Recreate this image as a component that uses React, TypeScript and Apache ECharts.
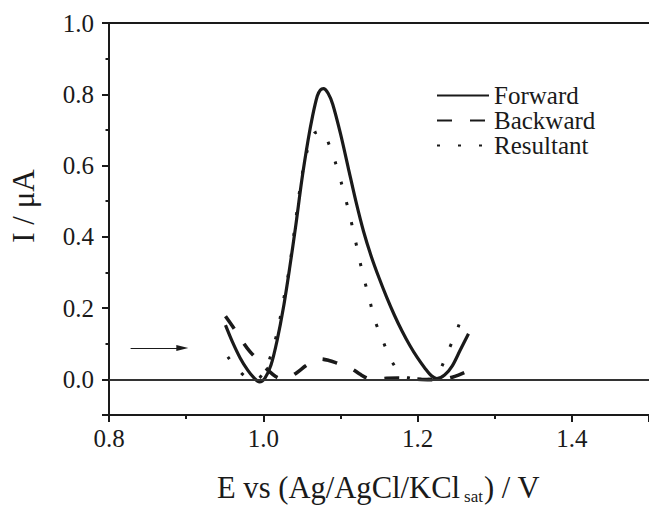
import React, { useEffect, useRef } from 'react';
import * as echarts from 'echarts';

// ---- data ----
const forwardE = [0.951, 0.96, 0.97, 0.98, 0.988, 0.995, 1.002, 1.01, 1.018, 1.026, 1.034, 1.042, 1.05, 1.058, 1.064, 1.07, 1.074, 1.078, 1.084, 1.09, 1.1, 1.11, 1.12, 1.13, 1.14, 1.15, 1.16, 1.17, 1.18, 1.19, 1.2, 1.21, 1.218, 1.225, 1.235, 1.245, 1.255, 1.266];
const forwardI = [0.152, 0.105, 0.06, 0.025, 0.004, -0.007, 0.003, 0.04, 0.11, 0.2, 0.31, 0.43, 0.56, 0.67, 0.74, 0.795, 0.812, 0.816, 0.803, 0.772, 0.69, 0.595, 0.5, 0.415, 0.345, 0.285, 0.23, 0.18, 0.135, 0.095, 0.06, 0.03, 0.01, 0.002, 0.012, 0.038, 0.081, 0.128];

const backwardE = [0.951, 0.963, 0.975, 0.983, 0.992, 1.0, 1.008, 1.016, 1.024, 1.032, 1.043, 1.055, 1.065, 1.075, 1.085, 1.095, 1.105, 1.116, 1.125, 1.135, 1.145, 1.16, 1.175, 1.19, 1.205, 1.22, 1.235, 1.245, 1.253, 1.262];
const backwardI = [0.177, 0.14, 0.1, 0.077, 0.057, 0.039, 0.022, 0.008, 0.001, 0.004, 0.018, 0.038, 0.052, 0.057, 0.053, 0.046, 0.038, 0.028, 0.015, 0.003, 0.0, 0.003, 0.004, 0.002, 0.0, -0.001, 0.001, 0.006, 0.012, 0.02];

const resultantE = [0.954, 0.966, 0.978, 0.99, 1.002, 1.012, 1.019, 1.026, 1.034, 1.042, 1.05, 1.058, 1.066, 1.076, 1.086, 1.094, 1.102, 1.111, 1.118, 1.124, 1.13, 1.137, 1.144, 1.154, 1.166, 1.18, 1.19, 1.205, 1.22, 1.23, 1.238, 1.25, 1.259];
const resultantI = [0.063, 0.03, 0.006, -0.002, 0.025, 0.083, 0.142, 0.22, 0.315, 0.446, 0.57, 0.65, 0.69, 0.697, 0.655, 0.605, 0.545, 0.47, 0.404, 0.343, 0.287, 0.231, 0.17, 0.114, 0.053, 0.011, 0.004, 0.0, 0.002, 0.03, 0.072, 0.131, 0.189];

const seriesNames = ['Forward', 'Backward', 'Resultant'];
const arrowE = [0.828, 0.895];
const arrowI = 0.088;
const zeroLevel = 0;
const xRange = [0.8, 1.5];
const yRange = [-0.1, 1.0];

const FONT = "'Liberation Serif', 'Times New Roman', Times, serif";
const INK = '#1a1a1a';

const zip = (e: number[], i: number[]) => e.map((v, k) => [v, i[k]]);

export default function App() {
  const ref = useRef<HTMLDivElement>(null);

  useEffect(() => {
    if (!ref.current) return;
    const chart = echarts.init(ref.current, null, { renderer: 'svg' });

    // measure x-axis title pieces
    const ctx = document.createElement('canvas').getContext('2d')!;
    const part1 = 'E vs (Ag/AgCl/KCl';
    const part2 = 'sat';
    const part3 = ') / V';
    ctx.font = `30.6px ${FONT}`;
    const w1 = ctx.measureText(part1).width;
    ctx.font = `17px ${FONT}`;
    const w2 = ctx.measureText(part2).width;
    const titleLeft = 217;
    const titleY = 488;

    chart.setOption({
      animation: false,
      backgroundColor: '#ffffff',
      grid: { left: 109, right: 0, top: 23, bottom: 91, containLabel: false },
      legend: {
        orient: 'vertical',
        left: 436,
        top: 83,
        padding: 0,
        itemWidth: 52,
        itemHeight: 27.5,
        itemGap: 0,
        data: seriesNames,
        itemStyle: { opacity: 0, color: 'transparent', borderWidth: 0 },
        textStyle: { fontFamily: FONT, fontSize: 25, color: INK },
        inactiveColor: INK,
      },
      xAxis: [
        {
          type: 'value',
          min: xRange[0],
          max: xRange[1],
          interval: 0.2,
          position: 'bottom',
          axisLine: { show: true, onZero: false, lineStyle: { color: INK, width: 2 } },
          axisTick: { show: true, inside: false, length: 7, lineStyle: { color: INK, width: 2 } },
          minorTick: { show: true, splitNumber: 2, length: 4, lineStyle: { color: INK, width: 2 } },
          splitLine: { show: false },
          axisLabel: {
            margin: 11,
            fontFamily: FONT,
            fontSize: 25,
            color: INK,
            showMaxLabel: false,
            formatter: (v: number) => (v > 1.45 ? '' : v.toFixed(1)),
          },
        },
        {
          type: 'value',
          min: xRange[0],
          max: xRange[1],
          position: 'top',
          axisLine: { show: true, onZero: false, lineStyle: { color: INK, width: 2 } },
          axisTick: { show: false },
          axisLabel: { show: false },
          splitLine: { show: false },
        },
      ],
      yAxis: {
        type: 'value',
        min: yRange[0],
        max: yRange[1],
        splitNumber: 5,
        axisLine: { show: true, onZero: false, lineStyle: { color: INK, width: 2 } },
        axisTick: { show: true, inside: false, length: 7, lineStyle: { color: INK, width: 2 } },
        minorTick: { show: true, splitNumber: 2, length: 3.5, lineStyle: { color: INK, width: 2 } },
        splitLine: { show: false },
        axisLabel: {
          margin: 15,
          fontFamily: FONT,
          fontSize: 25,
          color: INK,
          showMinLabel: false,
          formatter: (v: number) => (v < -0.05 ? '' : v.toFixed(1)),
        },
      },
      series: [
        {
          name: seriesNames[0],
          type: 'line',
          data: zip(forwardE, forwardI),
          smooth: 0.3,
          symbol: 'none',
          color: INK,
          lineStyle: { color: INK, width: 3.2, type: 'solid' },
          markLine: {
            silent: true,
            symbol: 'none',
            label: { show: false },
            lineStyle: { color: '#333', width: 1.8, type: 'solid' },
            data: [{ yAxis: zeroLevel }],
          },
        },
        {
          name: seriesNames[1],
          type: 'line',
          data: zip(backwardE, backwardI),
          smooth: 0.3,
          symbol: 'none',
          color: INK,
          lineStyle: { color: INK, width: 3.6, type: [15, 18], cap: 'butt' },
          markLine: {
            silent: true,
            symbol: ['none', 'triangle'],
            symbolSize: [1, [6, 12]],
            label: { show: false },
            lineStyle: { color: INK, width: 1.2, type: 'solid' },
            data: [
              [
                { coord: [arrowE[0], arrowI], symbol: 'none' },
                { coord: [arrowE[1], arrowI], symbol: 'triangle', symbolSize: [6, 12] },
              ],
            ],
          },
        },
        {
          name: seriesNames[2],
          type: 'line',
          data: zip(resultantE, resultantI),
          smooth: 0.3,
          symbol: 'none',
          color: INK,
          lineStyle: { color: INK, width: 3, type: [3, 18], cap: 'butt' },
        },
      ],
      graphic: [
        {
          type: 'text',
          x: 23,
          y: 206,
          rotation: Math.PI / 2,
          style: {
            text: 'I / μA',
            font: `31px ${FONT}`,
            fill: INK,
            textAlign: 'center',
            textVerticalAlign: 'middle',
          },
        },
        {
          type: 'text',
          x: titleLeft,
          y: titleY,
          style: { text: part1, font: `30.6px ${FONT}`, fill: INK, textAlign: 'left', textVerticalAlign: 'middle' },
        },
        {
          type: 'text',
          x: titleLeft + w1 + 4,
          y: titleY + 8,
          style: { text: part2, font: `17px ${FONT}`, fill: INK, textAlign: 'left', textVerticalAlign: 'middle' },
        },
        {
          type: 'text',
          x: titleLeft + w1 + w2 + 5,
          y: titleY,
          style: { text: part3, font: `30.6px ${FONT}`, fill: INK, textAlign: 'left', textVerticalAlign: 'middle' },
        },
      ],
    });

    return () => chart.dispose();
  }, []);

  return (
    <div
      ref={ref}
      style={{ position: 'fixed', left: 0, top: 0, width: 649, height: 506, background: '#fff' }}
    />
  );
}
